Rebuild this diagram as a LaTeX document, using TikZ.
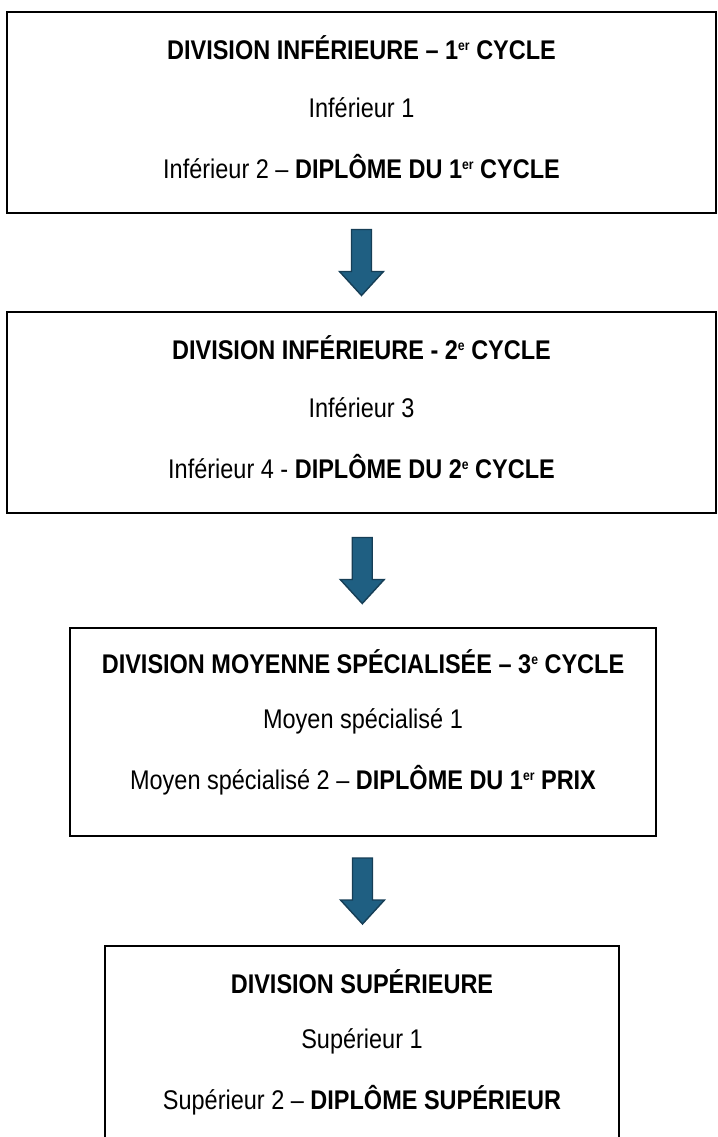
\documentclass[tikz,border=0pt]{standalone}
\usepackage{fontspec}
\setmainfont[FakeStretch=0.87]{Liberation Sans}
\usetikzlibrary{calc}

\definecolor{arrowfill}{RGB}{31,95,130}
\definecolor{arrowline}{RGB}{22,62,86}

\newcommand{\exposant}[1]{\raisebox{.32em}{\fontsize{14}{14}\selectfont #1}}

\tikzset{
	division/.style={draw=black,line width=1.6pt,inner sep=0pt},
	line/.style={font=\fontsize{27}{30}\selectfont,inner sep=0pt},
	blockarrow/.style={fill=arrowfill,draw=arrowline,line width=1.4pt,line join=miter},
}

% block arrow centred between two boxes
\newcommand{\downarrowbox}[2]{%
	\draw[blockarrow] let \p1=($(#1.south)!.5!(#2.north)$) in
		(\x1-10,\y1+33) -- (\x1+10,\y1+33) -- (\x1+10,\y1-9) -- (\x1+22,\y1-9)
		-- (\x1,\y1-33) -- (\x1-22,\y1-9) -- (\x1-10,\y1-9) -- cycle;
}

\begin{document}
\begin{tikzpicture}[x=1pt,y=1pt]
	\useasboundingbox (0,0) rectangle (717,-1137);
	\clip (0,0) rectangle (717,-1137);

	% boxes
	\node[division,minimum width=709,minimum height=201] (inf1) at (361.5,-112.5) {};
	\node[division,minimum width=709,minimum height=201] (inf2) at (361.5,-412.5) {};
	\node[division,minimum width=586,minimum height=208] (moy) at (363,-732) {};
	\node[division,minimum width=514,minimum height=200] (sup) at (362,-1046) {};

	% texts
	\node[line] (inf1a) at ($(inf1.north)+(0,-36)$) {\bfseries DIVISION INFÉRIEURE – 1\exposant{er} CYCLE};
	\node[line] (inf1b) at ($(inf1.north)+(0,-96)$) {Inférieur 1};
	\node[line] (inf1c) at ($(inf1.north)+(0,-155)$) {Inférieur 2 – \textbf{DIPLÔME DU 1\exposant{er} CYCLE}};

	\node[line] (inf2a) at ($(inf2.north)+(0,-36)$) {\bfseries DIVISION INFÉRIEURE - 2\exposant{e} CYCLE};
	\node[line] (inf2b) at ($(inf2.north)+(0,-96)$) {Inférieur 3};
	\node[line] (inf2c) at ($(inf2.north)+(0,-155)$) {Inférieur 4 - \textbf{DIPLÔME DU 2\exposant{e} CYCLE}};

	\node[line] (moya) at ($(moy.north)+(0,-34)$) {\bfseries DIVISION MOYENNE SPÉCIALISÉE – 3\exposant{e} CYCLE};
	\node[line] (moyb) at ($(moy.north)+(0,-94)$) {Moyen spécialisé 1};
	\node[line] (moyc) at ($(moy.north)+(0,-153)$) {Moyen spécialisé 2 – \textbf{DIPLÔME DU 1\exposant{er} PRIX}};

	\node[line] (supa) at ($(sup.north)+(0,-36)$) {\bfseries DIVISION SUPÉRIEURE};
	\node[line] (supb) at ($(sup.north)+(0,-96)$) {Supérieur 1};
	\node[line] (supc) at ($(sup.north)+(0,-155)$) {Supérieur 2 – \textbf{DIPLÔME SUPÉRIEUR}};

	% arrows
	\downarrowbox{inf1}{inf2}
	\downarrowbox{inf2}{moy}
	\downarrowbox{moy}{sup}
\end{tikzpicture}
\end{document}
